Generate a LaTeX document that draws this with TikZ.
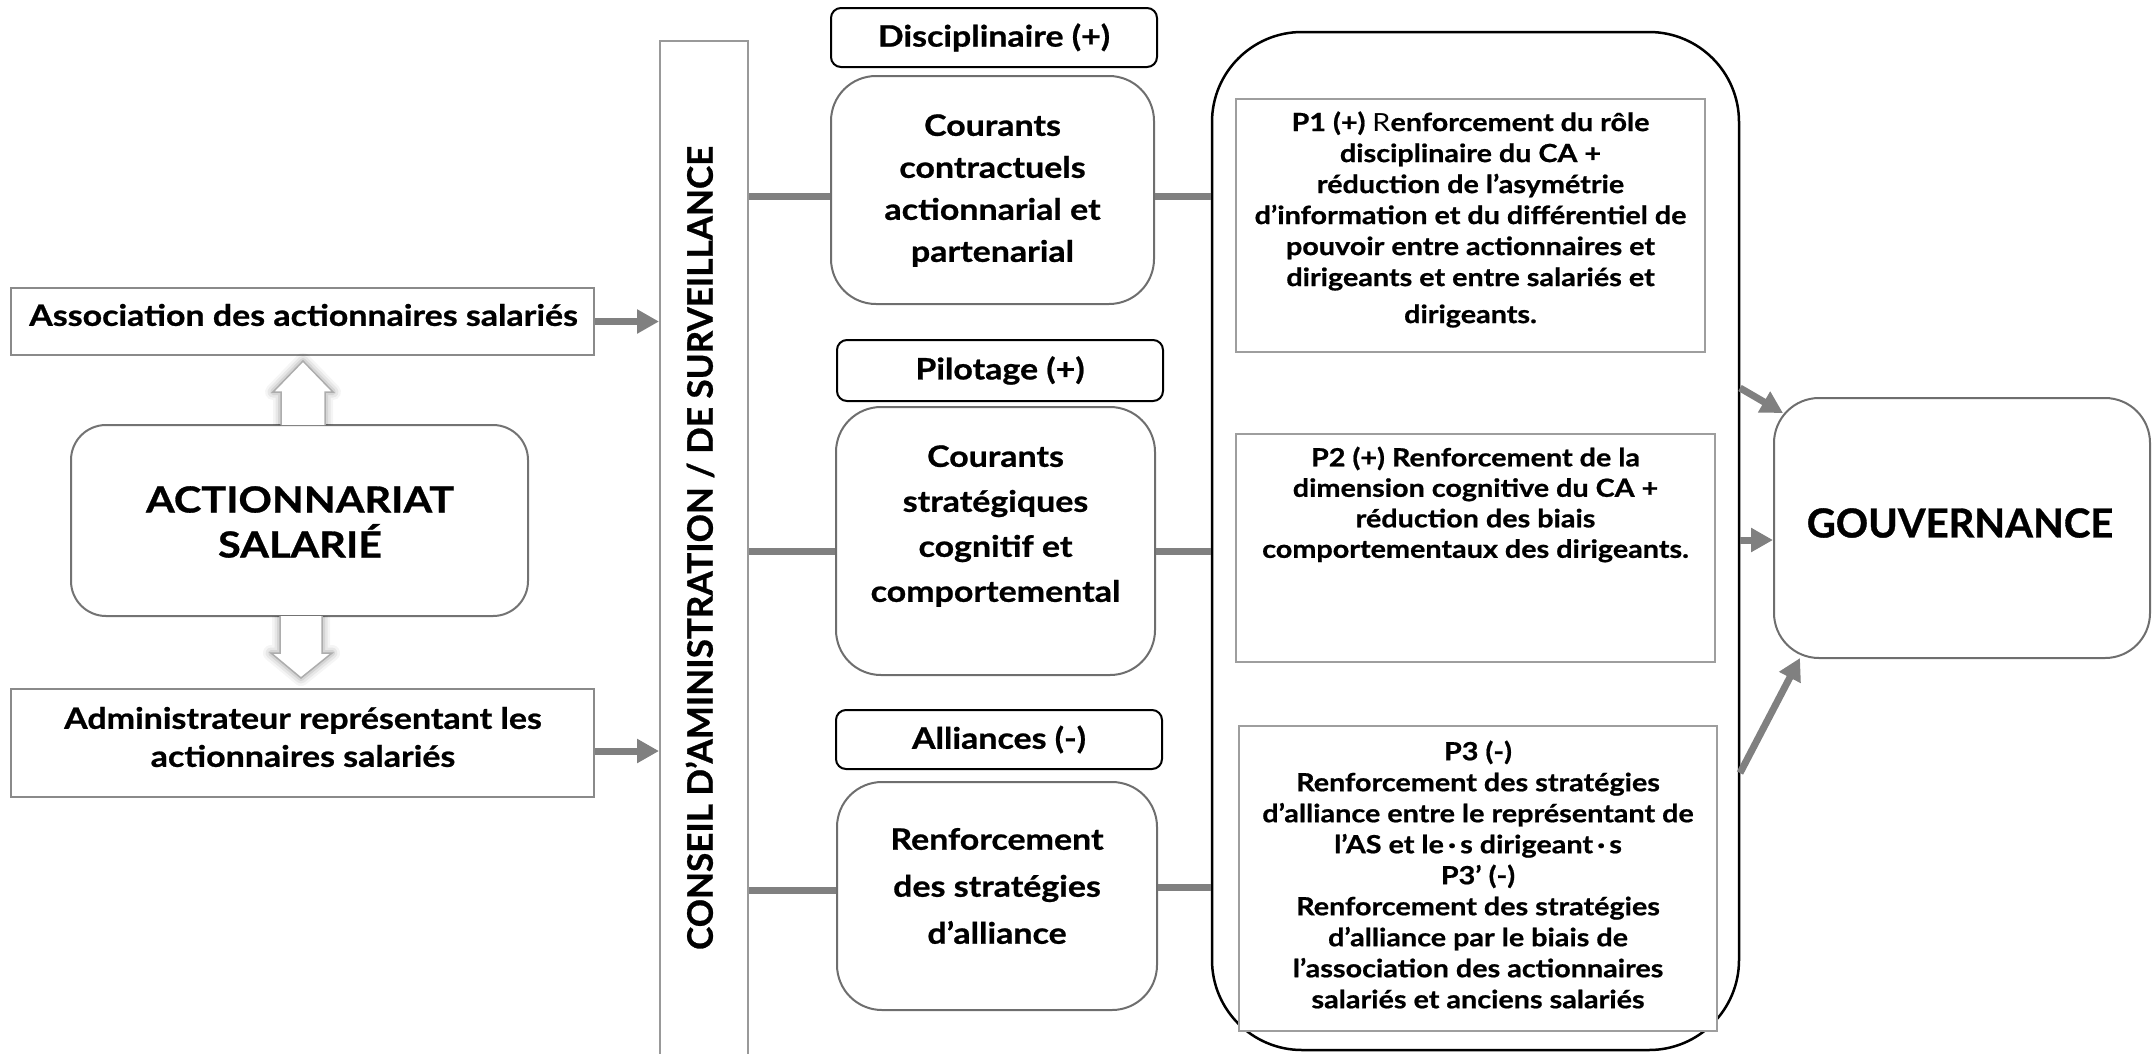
\documentclass[tikz,border=0pt]{standalone}
\usepackage{fontspec}
\setmainfont{Lato}[FakeStretch=1.15, BoldFeatures={FakeBold=0.8}]
\newfontfamily\capsfont{Lato}[BoldFeatures={FakeBold=0.8}]
\usetikzlibrary{arrows.meta}
\definecolor{conngray}{HTML}{808080}
\definecolor{boxgray}{HTML}{8A8A8A}
\definecolor{darkgray}{HTML}{6E6E6E}
\definecolor{lightbox}{HTML}{9E9E9E}
\begin{document}
\begin{tikzpicture}[x=1pt,y=-1pt,
  txt/.style={font=\bfseries\fontsize{29.5}{42}\selectfont, align=center, inner sep=0pt},
  ptxt/.style={font=\bfseries\fontsize{25}{31}\selectfont, align=center, inner sep=0pt},
  sqbox/.style={draw=boxgray, line width=2pt, fill=white, inner sep=0pt},
  rbox/.style={draw=darkgray, line width=2pt, fill=white, rounded corners=45pt, inner sep=0pt},
  tagbox/.style={draw=black, line width=2pt, fill=white, rounded corners=10pt, inner sep=0pt},
  pbox/.style={draw=lightbox, line width=2.5pt, fill=white, inner sep=0pt},
  conn/.style={draw=conngray, line width=7pt},
  connarrow/.style={conn, -{Triangle[length=22pt,width=23pt]}},
  hollow/.style={draw=black!32, line width=1.5pt, fill=white, line join=miter},
]
\useasboundingbox (0,0) rectangle (2152,1053);

% ---------- left column ----------
\node[sqbox, minimum width=583pt, minimum height=67pt] (assoc) at (302.5,321.5) {};
\node[txt] (assoc-t) at (303.5,315) {Association des actionnaires salariés};

\node[draw=black!55, line width=2pt, fill=white, rounded corners=35pt, inner sep=0pt,
      minimum width=457pt, minimum height=191pt] (act) at (299.5,520.5) {};
\node[txt, font=\bfseries\fontsize{36}{45}\selectfont] (act-t) at (300,522) {ACTIONNARIAT\\SALARIÉ};

\node[sqbox, minimum width=583pt, minimum height=108pt] (admin) at (302.5,743) {};
\node[txt, font=\bfseries\fontsize{29.5}{38}\selectfont] (admin-t) at (303,737) {Administrateur représentant les\\actionnaires salariés};

% hollow double arrows
\foreach \w/\o in {16/0.04,11/0.06,6/0.08}{
  \draw[line width=\w pt, draw=black, draw opacity=\o, line join=round]
    (281,425) -- (281,392) -- (273,392) -- (303,361) -- (333,392) -- (325,392) -- (325,425);
  \draw[line width=\w pt, draw=black, draw opacity=\o, line join=round]
    (280,616) -- (280,653) -- (271,653) -- (301,678) -- (332,653) -- (322,653) -- (322,616);
}
\draw[hollow] (281,425) -- (281,392) -- (273,392) -- (303,361) -- (333,392) -- (325,392) -- (325,425);
\draw[hollow] (280,616) -- (280,653) -- (271,653) -- (301,678) -- (332,653) -- (322,653) -- (322,616);

% ---------- board ----------
\node[draw=black!40, line width=2pt, fill=white, inner sep=0pt,
      minimum width=88pt, minimum height=1018pt] (ca) at (704,550) {};
\node[rotate=90, inner sep=0pt, font=\capsfont\bfseries\fontsize{35}{35}\selectfont] (ca-t) at (700,548)
  {CONSEIL D’AMINISTRATION / DE SURVEILLANCE};

% ---------- theory column ----------
\node[tagbox, minimum width=326pt, minimum height=59pt] (ld) at (994,37.5) {};
\node[txt] (ld-t) at (994,37.5) {Disciplinaire (+)};
\node[rbox, minimum width=323pt, minimum height=228pt] (cc) at (992.5,190) {};
\node[txt] (cc-t) at (992.5,190.5) {Courants\\contractuels\\actionnarial et\\partenarial};

\node[tagbox, minimum width=326pt, minimum height=61pt] (lp) at (1000,370.5) {};
\node[txt] (lp-t) at (1000,370.5) {Pilotage (+)};
\node[rbox, minimum width=319pt, minimum height=268pt] (cs) at (995.5,541) {};
\node[txt, font=\bfseries\fontsize{29.5}{45}\selectfont] (cs-t) at (995.5,526) {Courants\\stratégiques\\cognitif et\\comportemental};

\node[tagbox, minimum width=326pt, minimum height=59pt] (la) at (999,739.5) {};
\node[txt] (la-t) at (999,739.5) {Alliances (-)};
\node[rbox, minimum width=320pt, minimum height=228pt] (rs) at (997,896) {};
\node[txt, font=\bfseries\fontsize{29.5}{47}\selectfont] (rs-t) at (997,886) {Renforcement\\des stratégies\\d’alliance};

% ---------- propositions ----------
\node[draw=black, line width=2.5pt, fill=white, rounded corners=90pt, inner sep=0pt,
      minimum width=527pt, minimum height=1018pt] (big) at (1475.5,541) {};

\node[pbox, minimum width=469pt, minimum height=253pt] (p1) at (1470.5,225.5) {};
\node[ptxt] (p1-t) at (1470.5,219.5) {P1 (+) {\mdseries R}enforcement du rôle\\disciplinaire du CA +\\réduction de l’asymétrie\\d’information et du différentiel de\\pouvoir entre actionnaires et\\dirigeants et entre salariés et\\[6pt]dirigeants.};

\node[pbox, minimum width=479pt, minimum height=228pt] (p2) at (1475.5,548) {};
\node[ptxt, font=\bfseries\fontsize{25}{30.5}\selectfont] (p2-t) at (1475.5,504.5) {P2 (+) Renforcement de la\\dimension cognitive du CA +\\réduction des biais\\comportementaux des dirigeants.};

\node[pbox, minimum width=478pt, minimum height=305pt] (p3) at (1478,878.5) {};
\node[ptxt] (p3-t) at (1478,874.5) {P3 (-)\\Renforcement des stratégies\\d’alliance entre le représentant de\\l’AS et le\,·\,s dirigeant\,·\,s\\P3’ (-)\\Renforcement des stratégies\\d’alliance par le biais de\\l’association des actionnaires\\salariés et anciens salariés};

% ---------- governance ----------
\node[draw=darkgray, line width=2pt, fill=white, rounded corners=45pt, inner sep=0pt,
      minimum width=376pt, minimum height=260pt] (gouv) at (1962,528) {};
\node[inner sep=0pt, font=\capsfont\bfseries\fontsize{40}{40}\selectfont] (gouv-t) at (1960,523) {GOUVERNANCE};

% ---------- connectors ----------
\draw[connarrow] (assoc.east) -- (ca.west |- assoc.east);
\coordinate (adminout) at ([yshift=-8pt]admin.east);
\draw[connarrow] (adminout) -- (ca.west |- adminout);

\coordinate (cc-in) at ([yshift=-6pt]cc.west);
\coordinate (cc-out) at ([yshift=-6pt]cc.east);
\draw[conn] (ca.east |- cc-in) -- (cc-in);
\draw[conn] (cc-out) -- (big.west |- cc-out);

\coordinate (cs-in) at ([yshift=-10pt]cs.west);
\coordinate (cs-out) at ([yshift=-10pt]cs.east);
\draw[conn] (ca.east |- cs-in) -- (cs-in);
\draw[conn] (cs-out) -- (big.west |- cs-out);

\coordinate (rs-in) at ([yshift=6pt]rs.west);
\coordinate (rs-out) at ([yshift=9pt]rs.east);
\draw[conn] (ca.east |- rs-in) -- (rs-in);
\draw[conn] (rs-out) -- (big.west |- rs-out);

\coordinate (g1s) at (1740,388);
\coordinate (g1e) at (1783,413);
\draw[connarrow] (g1s) -- (g1e);
\coordinate (g2e) at ([yshift=-12pt]gouv.west);
\draw[connarrow] (big.east |- g2e) -- (g2e);
\coordinate (g3s) at (1740,773);
\coordinate (g3e) at (1800,658);
\draw[connarrow] (g3s) -- (g3e);
\end{tikzpicture}
\end{document}
